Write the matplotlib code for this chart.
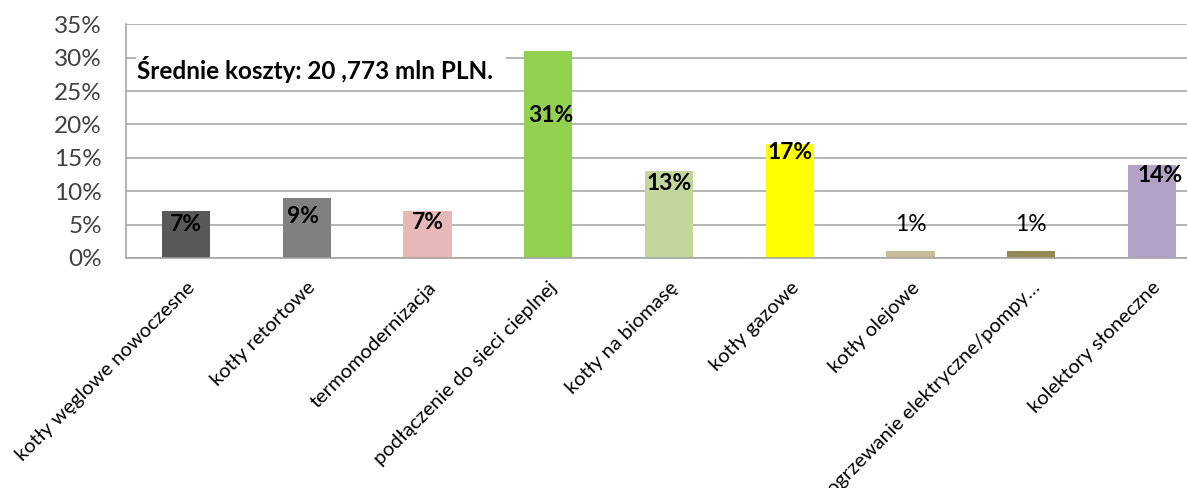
import matplotlib
matplotlib.use("Agg")
import matplotlib.pyplot as plt
from matplotlib.ticker import PercentFormatter, MultipleLocator
from matplotlib.patches import Rectangle

categories = [
    "kotły węglowe nowoczesne",
    "kotły retortowe",
    "termomodernizacja",
    "podłączenie do sieci cieplnej",
    "kotły na biomasę",
    "kotły gazowe",
    "kotły olejowe",
    "ogrzewanie elektryczne/pompy…",
    "kolektory słoneczne",
]
values = [0.07, 0.09, 0.07, 0.31, 0.13, 0.17, 0.01, 0.01, 0.14]
value_labels = ["7%", "9%", "7%", "31%", "13%", "17%", "1%", "1%", "14%"]
colors = ["#595959", "#808080", "#E6B9B8", "#92D050", "#C3D69B",
          "#FFFF00", "#C4BD97", "#948A54", "#B3A2C7"]
note = "Średnie koszty: 20 ,773 mln PLN."

# label offsets in pixels and weights (style only)
label_dx = [0, -4, 0, 3, 0, 0, 0, 0, 8]
label_dy = [-13, -19, -11, -64, -12, -8, 27, 27, -11]
label_weight = ['bold'] * 6 + ['normal', 'normal', 'bold']

plt.rcParams['font.family'] = ['Lato', 'DejaVu Sans']

W, H = 1187, 488
fig = plt.figure(figsize=(W / 100, H / 100), dpi=100)
ax = fig.add_axes([125.6 / W, 230 / H, 1086.75 / W, 233.7 / H])

x = list(range(len(categories)))
ax.bar(x, values, width=0.4, color=colors, zorder=2)

ax.set_xlim(-0.5, len(categories) - 0.5)
ax.set_ylim(0, 0.35)
ax.yaxis.set_major_locator(MultipleLocator(0.05))
ax.yaxis.set_major_formatter(PercentFormatter(1.0, decimals=0))
ax.grid(axis='y', color='#A0A0A0', linewidth=1.1, zorder=0)
ax.set_axisbelow(True)

for s in ['top', 'right']:
    ax.spines[s].set_visible(False)
for s in ['left', 'bottom']:
    ax.spines[s].set_color('#A0A0A0')
    ax.spines[s].set_linewidth(1.1)

ax.tick_params(axis='y', length=0, pad=17, labelsize=17.5, labelcolor='#404040')
ax.tick_params(axis='x', length=0, pad=15)
ax.set_xticks(x)
ax.set_xticklabels(categories, rotation=45, ha='right', rotation_mode='anchor',
                   fontsize=14.5, color='#000000')

for i, (v, lab) in enumerate(zip(values, value_labels)):
    ax.annotate(lab, xy=(i, v), xytext=(label_dx[i] * 0.72, label_dy[i] * 0.72),
                textcoords='offset points', ha='center', va='center',
                fontsize=16.5, fontweight=label_weight[i], color='#000000', zorder=4)

# white box behind the note
ax.add_patch(Rectangle((0.0096, 0.74), 0.34, 0.18, transform=ax.transAxes,
                       facecolor='white', edgecolor='none', zorder=1.5))
ax.text(0.0105, 0.805, note, transform=ax.transAxes, ha='left', va='center',
        fontsize=17.5, fontweight='bold', color='#000000', zorder=3)

fig.savefig("out.png", dpi=100)
